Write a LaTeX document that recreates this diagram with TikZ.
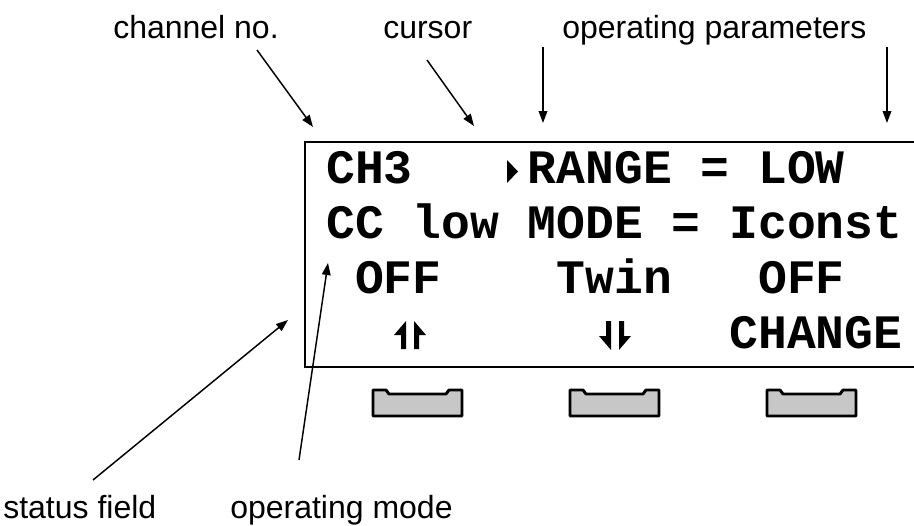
\documentclass[tikz,border=0pt]{standalone}
\usepackage{fontspec}
\setmainfont{Liberation Sans}
\newfontfamily\lcdfont{Liberation Mono}
\usetikzlibrary{arrows.meta}

\begin{document}
\begin{tikzpicture}[
  x=0.75pt, y=-0.75pt,
  lbl/.style={anchor=base west, inner sep=0pt, font=\fontsize{24}{24}\selectfont},
  lcd/.style={anchor=base west, inner sep=0pt, font=\lcdfont\bfseries\fontsize{36}{36}\selectfont},
  ptr/.style={-{Triangle[length=9pt,width=6.5pt]}, line width=1.1pt},
  softkey/.style={draw, line width=2.2pt, fill=black!22, line join=round},
  harp/.style={fill=black}
]
\useasboundingbox (0,0) rectangle (914,525);
\clip (0,0) rectangle (914,525);

% display frame
\draw[line width=2.2pt] (305,142) rectangle (940,367);

% display lines
\node[lcd] (chno) at (326,183) {CH3};
\fill (507,160) -- (518,171.5) -- (507,183) -- cycle;
\node[lcd] (range) at (527.6,183) {RANGE = LOW};
\node[lcd] (mode) at (326,238) {CC low MODE = Iconst};
\node[lcd] (off1) at (354.8,293) {OFF};
\node[lcd] (twin) at (556.4,293) {Twin};
\node[lcd] (off2) at (758,293) {OFF};
\node[lcd] (change) at (729.2,348) {CHANGE};

% soft key symbols
\fill[harp] (401,349) -- (401,335) -- (394,335) -- (406,321) -- (406,349) -- cycle;
\fill[harp] (414,349) -- (414,321) -- (426,335) -- (419,335) -- (419,349) -- cycle;
\fill[harp] (606,321) -- (606,336) -- (599,336) -- (611,350) -- (611,321) -- cycle;
\fill[harp] (619,321) -- (619,350) -- (631,336) -- (624,336) -- (624,321) -- cycle;

% soft keys
\foreach \k/\x in {1/373, 2/570, 3/767}
  \draw[softkey] (\x,416) -- (\x,390) -- (\x+13,390) -- (\x+16,394) -- (\x+73,394)
    -- (\x+76,390) -- (\x+89,390) -- (\x+89,416) -- cycle;

% labels
\node[lbl] (lchan) at (113,38) {channel no.};
\node[lbl] (lcur) at (383,38) {cursor};
\node[lbl] (lpar) at (562,38) {operating parameters};
\node[lbl] (lstat) at (3,518) {status field};
\node[lbl] (lmode) at (230,518) {operating mode};

\coordinate (chanA) at (257,50);  \coordinate (chanB) at (313,127);
\coordinate (curA) at (427,60);   \coordinate (curB) at (474,126);
\coordinate (parA) at (543,47);   \coordinate (parB) at (543,123);
\coordinate (parC) at (887,47);   \coordinate (parD) at (887,123);
\coordinate (statA) at (93,480);  \coordinate (statB) at (288,320);
\coordinate (modeA) at (299,460); \coordinate (modeB) at (328,263);

\draw[ptr] (chanA) -- (chanB);
\draw[ptr] (curA) -- (curB);
\draw[ptr] (parA) -- (parB);
\draw[ptr] (parC) -- (parD);
\draw[ptr] (statA) -- (statB);
\draw[ptr] (modeA) -- (modeB);
\end{tikzpicture}
\end{document}
